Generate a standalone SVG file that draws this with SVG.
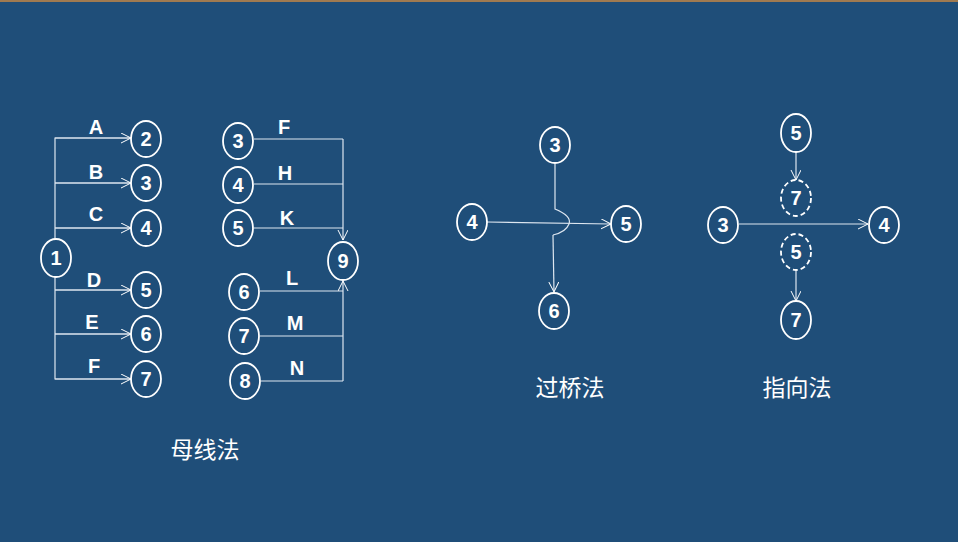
<svg xmlns="http://www.w3.org/2000/svg" width="958" height="542" viewBox="0 0 958 542">
<defs>
<marker id="a" markerWidth="12" markerHeight="12" refX="10" refY="5" orient="auto" markerUnits="userSpaceOnUse"><path d="M0,0 L10,5 L0,10" fill="none" stroke="#fff" stroke-width="1"/></marker>
</defs>
<style>
.n{fill:none;stroke:#fff;stroke-width:1.8}
.d{fill:none;stroke:#fff;stroke-width:1.8;stroke-dasharray:5 3}
.t{fill:#fff;font-family:"Liberation Sans",Arial,sans-serif;font-weight:bold;font-size:20px;text-anchor:middle}
.c{fill:none;stroke:#dde6f0;stroke-width:1.2}
.z{fill:#fff;font-family:"Noto Sans CJK SC",sans-serif;font-size:23px;text-anchor:middle}
</style>
<rect width="958" height="542" fill="#1f4e79"/>
<rect width="958" height="2" fill="#a07a50"/>
<g id="connectors">
<path class="c" d="M55,239 V138 H131 M55,183 H131 M55,228 H131 M55,277 V379 H131 M55,290 H131 M55,334 H131" />
<path class="c" d="M55,138 H131" marker-end="url(#a)"/><path class="c" d="M55,183 H131" marker-end="url(#a)"/><path class="c" d="M55,228 H131" marker-end="url(#a)"/><path class="c" d="M55,290 H131" marker-end="url(#a)"/><path class="c" d="M55,334 H131" marker-end="url(#a)"/><path class="c" d="M55,379 H131" marker-end="url(#a)"/>
<path class="c" d="M254,139 H343 M254,184 H343 M254,228 H343 M260,291 H343 M260,336 H343 M261,381 H343"/>
<path class="c" d="M343,139 V240" marker-end="url(#a)"/>
<path class="c" d="M343,381 V281" marker-end="url(#a)"/>
<path class="c" d="M555,164 V209 Q572,216 569,224 Q566,232 553,235"/>
<path class="c" d="M553,235 L554,292" marker-end="url(#a)"/>
<path class="c" d="M487,222 L611,224" marker-end="url(#a)"/>
<path class="c" d="M796,152 V180" marker-end="url(#a)"/>
<path class="c" d="M796,271 V301" marker-end="url(#a)"/>
<path class="c" d="M739,224 H868" marker-end="url(#a)"/>
</g>
<g id="labels">
<text class="t" x="96" y="134">A</text><text class="t" x="96" y="179">B</text><text class="t" x="96" y="221">C</text><text class="t" x="94" y="287">D</text><text class="t" x="92" y="329">E</text><text class="t" x="94" y="373">F</text>
<text class="t" x="284" y="134">F</text><text class="t" x="285" y="180">H</text><text class="t" x="287" y="225">K</text><text class="t" x="292" y="285">L</text><text class="t" x="295" y="330">M</text><text class="t" x="297" y="375">N</text>
<text class="z" x="205" y="458">母线法</text><text class="z" x="570" y="396">过桥法</text><text class="z" x="797" y="396">指向法</text>
</g>
<g id="n1"><ellipse class="n" cx="56" cy="258" rx="15" ry="19"/><text class="t" x="56" y="265">1</text></g>
<g id="m2"><ellipse class="n" cx="146" cy="139" rx="15" ry="18"/><text class="t" x="146" y="146">2</text></g>
<g id="m3"><ellipse class="n" cx="146" cy="183" rx="15" ry="18"/><text class="t" x="146" y="190">3</text></g>
<g id="m4"><ellipse class="n" cx="146" cy="228" rx="15" ry="18"/><text class="t" x="146" y="235">4</text></g>
<g id="m5"><ellipse class="n" cx="146" cy="290" rx="15" ry="18"/><text class="t" x="146" y="297">5</text></g>
<g id="m6"><ellipse class="n" cx="146" cy="334" rx="15" ry="18"/><text class="t" x="146" y="341">6</text></g>
<g id="m7"><ellipse class="n" cx="146" cy="379" rx="15" ry="18"/><text class="t" x="146" y="386">7</text></g>
<g id="r3"><ellipse class="n" cx="238" cy="141" rx="15" ry="18"/><text class="t" x="238" y="148">3</text></g>
<g id="r4"><ellipse class="n" cx="238" cy="185" rx="15" ry="18"/><text class="t" x="238" y="192">4</text></g>
<g id="r5"><ellipse class="n" cx="238" cy="228" rx="15" ry="18"/><text class="t" x="238" y="235">5</text></g>
<g id="r6"><ellipse class="n" cx="244" cy="292" rx="15" ry="18"/><text class="t" x="244" y="299">6</text></g>
<g id="r7"><ellipse class="n" cx="244" cy="336" rx="15" ry="18"/><text class="t" x="244" y="343">7</text></g>
<g id="r8"><ellipse class="n" cx="245" cy="381" rx="15" ry="18"/><text class="t" x="245" y="388">8</text></g>
<g id="r9"><ellipse class="n" cx="343" cy="261" rx="15" ry="19"/><text class="t" x="343" y="268">9</text></g>
<g id="b3"><ellipse class="n" cx="555" cy="145" rx="15" ry="18"/><text class="t" x="555" y="152">3</text></g>
<g id="b4"><ellipse class="n" cx="472" cy="222" rx="15" ry="18"/><text class="t" x="472" y="229">4</text></g>
<g id="b5"><ellipse class="n" cx="626" cy="224" rx="15" ry="18"/><text class="t" x="626" y="231">5</text></g>
<g id="b6"><ellipse class="n" cx="554" cy="311" rx="15" ry="18"/><text class="t" x="554" y="318">6</text></g>
<g id="p5"><ellipse class="n" cx="796" cy="133" rx="15" ry="19"/><text class="t" x="796" y="140">5</text></g>
<g id="p7d"><ellipse class="d" cx="796" cy="198" rx="15" ry="18"/><text class="t" x="796" y="205">7</text></g>
<g id="p3"><ellipse class="n" cx="723" cy="225" rx="15" ry="18"/><text class="t" x="723" y="232">3</text></g>
<g id="p4"><ellipse class="n" cx="884" cy="225" rx="15" ry="18"/><text class="t" x="884" y="232">4</text></g>
<g id="p5d"><ellipse class="d" cx="796" cy="252" rx="15" ry="18"/><text class="t" x="796" y="259">5</text></g>
<g id="p7"><ellipse class="n" cx="796" cy="320" rx="15" ry="19"/><text class="t" x="796" y="327">7</text></g>
</svg>
